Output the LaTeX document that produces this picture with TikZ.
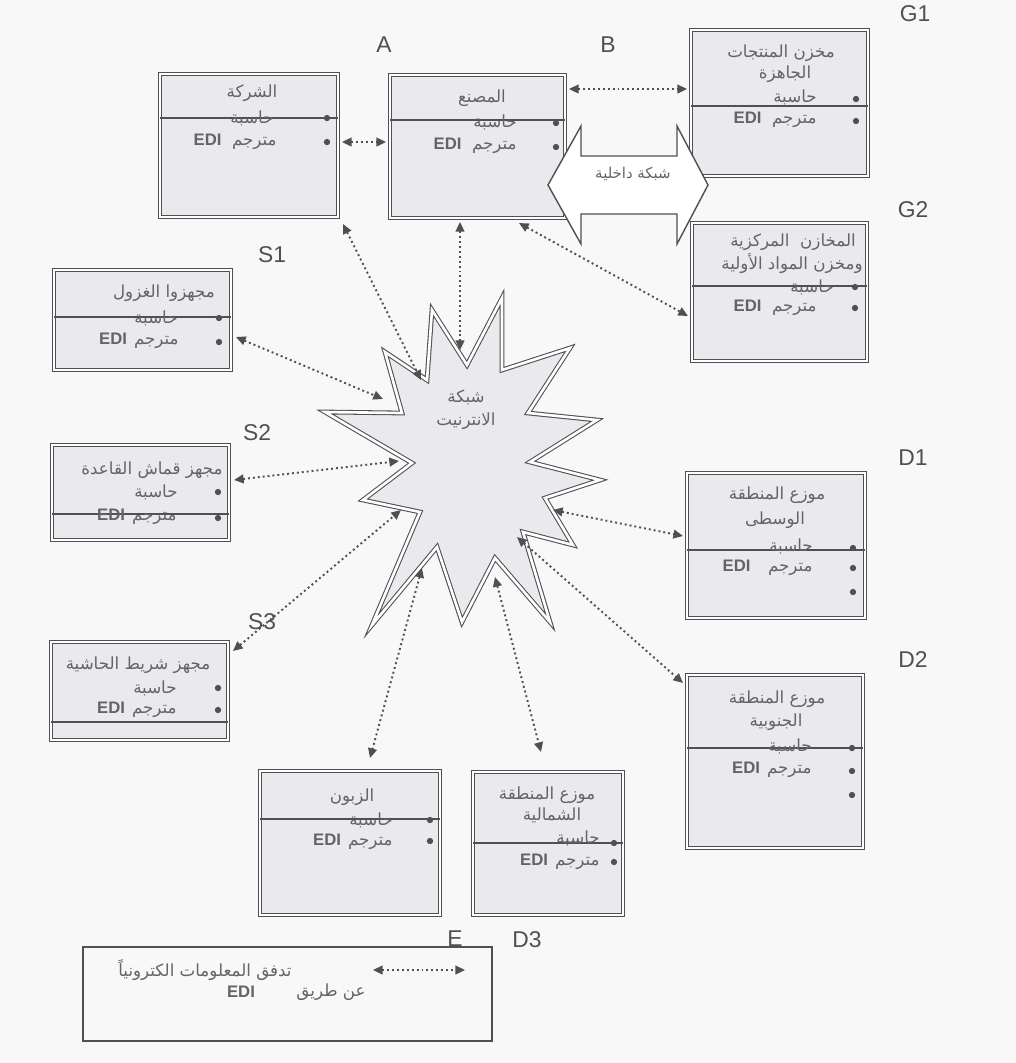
\documentclass[tikz,border=0pt]{standalone}
\usepackage{fontspec}
\setmainfont{Liberation Sans}
\newfontfamily\arabicfont[Script=Arabic]{DejaVu Sans}
\TeXXeTstate=1
\usetikzlibrary{arrows.meta}
\definecolor{boxfill}{RGB}{234,234,238}
\definecolor{lin}{RGB}{80,80,80}
\definecolor{txt}{RGB}{100,100,100}
\definecolor{bg}{RGB}{248,248,248}
\newcommand{\ar}[1]{{\arabicfont\beginR #1\endR}}
\newcommand{\edi}{{\bfseries EDI}}
\begin{document}
\begin{tikzpicture}[x=0.02cm,y=-0.02cm,
  box/.style={draw=lin, double=white, double distance=1.5pt, line width=0.6pt, fill=boxfill, inner sep=0pt},
  divl/.style={draw=lin, line width=0.8pt},
  atxt/.style={font=\arabicfont\fontsize{9.5}{11}\selectfont, text=txt, inner sep=0pt},
  itxt/.style={font=\fontsize{9.5}{11}\selectfont, text=txt, inner sep=0pt, anchor=east},
  lbl/.style={font=\fontsize{13}{13}\selectfont, text=lin, inner sep=0pt},
  bul/.style={circle, fill=lin, inner sep=0pt, minimum size=3.6pt},
  flow/.style={draw=lin, line width=1.1pt, dash pattern=on 1.1pt off 1.7pt,
    {Triangle[length=5.5pt,width=5pt]}-{Triangle[length=5.5pt,width=5pt]}},
  starst/.style={draw=lin, double=white, double distance=1.5pt, line width=0.6pt, fill=boxfill, line join=miter},
  inet/.style={draw=lin, line width=0.8pt, fill=white, line join=miter}
]
\useasboundingbox[fill=bg] (0,0) rectangle (1016,1063);

% ---------- boxes ----------
\node[box, minimum width=3.56cm, minimum height=2.86cm] (A)  at (249,145.5) {};
\node[box, minimum width=3.50cm, minimum height=2.86cm] (B)  at (477.5,146.5) {};
\node[box, minimum width=3.54cm, minimum height=2.92cm] (G1) at (779.5,103) {};
\node[box, minimum width=3.50cm, minimum height=2.76cm] (G2) at (779.5,292) {};
\node[box, minimum width=3.54cm, minimum height=2.00cm] (S1) at (142.5,320) {};
\node[box, minimum width=3.54cm, minimum height=1.90cm] (S2) at (140.5,492.5) {};
\node[box, minimum width=3.54cm, minimum height=1.96cm] (S3) at (139.5,691) {};
\node[box, minimum width=3.56cm, minimum height=2.90cm] (D1) at (776,545.5) {};
\node[box, minimum width=3.52cm, minimum height=3.46cm] (D2) at (775,761.5) {};
\node[box, minimum width=3.60cm, minimum height=2.88cm] (Z)  at (350,843) {};
\node[box, minimum width=3.00cm, minimum height=2.86cm] (D3) at (548,843.5) {};

% ---------- divider lines ----------
\draw[divl] (160,118) -- (338,118);
\draw[divl] (390,120) -- (565,120);
\draw[divl] (691,106) -- (868,106);
\draw[divl] (692,286) -- (867,286);
\draw[divl] (54,317) -- (231,317);
\draw[divl] (52,514) -- (229,514);
\draw[divl] (51,722) -- (228,722);
\draw[divl] (687,550) -- (865,550);
\draw[divl] (687,748) -- (863,748);
\draw[divl] (260,819) -- (440,819);
\draw[divl] (473,843) -- (623,843);

% ---------- box texts ----------
% A
\node[atxt] (A-t) at (252,93) {\ar{الشركة}};
\node[itxt] (A-1) at (274,118) {\ar{حاسبة}};
\node[itxt] (A-2) at (277,142) {\edi\hspace{6pt}\ar{مترجم}};
\node[bul] (A-b1) at (327,118) {}; \node[bul] (A-b2) at (327,142) {};
% B
\node[atxt] (B-t) at (482,98) {\ar{المصنع}};
\node[itxt] (B-1) at (517,122) {\ar{حاسبة}};
\node[itxt] (B-2) at (517,146) {\edi\hspace{6pt}\ar{مترجم}};
\node[bul] (B-b1) at (556,123) {}; \node[bul] (B-b2) at (556,147) {};
% G1
\node[atxt] (G1-t1) at (781,53) {\ar{مخزن المنتجات}};
\node[atxt] (G1-t2) at (785,74) {\ar{الجاهزة}};
\node[itxt] (G1-1) at (817,97) {\ar{حاسبة}};
\node[itxt] (G1-2) at (817,120) {\edi\hspace{6pt}\ar{مترجم}};
\node[bul] (G1-b1) at (856,99) {}; \node[bul] (G1-b2) at (856,121) {};
% G2
\node[atxt] (G2-t1) at (793,242) {\ar{المخازن\ \ المركزية}};
\node[atxt] (G2-t2) at (792,264) {\ar{ومخزن المواد الأولية}};
\node[itxt] (G2-1) at (834,287) {\ar{حاسبة}};
\node[itxt] (G2-2) at (817,308) {\edi\hspace{6pt}\ar{مترجم}};
\node[bul] (G2-b1) at (855,287) {}; \node[bul] (G2-b2) at (855,308) {};
% S1
\node[atxt] (S1-t) at (164,293) {\ar{مجهزوا الغزول}};
\node[itxt] (S1-1) at (178,318) {\ar{حاسبة}};
\node[itxt] (S1-2) at (179,341) {\edi\hspace{4pt}\ar{مترجم}};
\node[bul] (S1-b1) at (219,318) {}; \node[bul] (S1-b2) at (219,342) {};
% S2
\node[atxt] (S2-t) at (152,470) {\ar{مجهز قماش القاعدة}};
\node[itxt] (S2-1) at (178,492) {\ar{حاسبة}};
\node[itxt] (S2-2) at (177,517) {\edi\hspace{4pt}\ar{مترجم}};
\node[bul] (S2-b1) at (218,492) {}; \node[bul] (S2-b2) at (218,518) {};
% S3
\node[atxt] (S3-t) at (138,665) {\ar{مجهز شريط الحاشية}};
\node[itxt] (S3-1) at (177,688) {\ar{حاسبة}};
\node[itxt] (S3-2) at (177,710) {\edi\hspace{4pt}\ar{مترجم}};
\node[bul] (S3-b1) at (218,688) {}; \node[bul] (S3-b2) at (218,710) {};
% D1
\node[atxt] (D1-t1) at (777,495) {\ar{موزع المنطقة}};
\node[atxt] (D1-t2) at (775,520) {\ar{الوسطى}};
\node[itxt] (D1-1) at (813,546) {\ar{حاسبة}};
\node[itxt] (D1-2) at (813,568) {\edi\hspace{10pt}\ar{مترجم}};
\node[bul] (D1-b1) at (853,548) {}; \node[bul] (D1-b2) at (853,568) {}; \node[bul] (D1-b3) at (853,592) {};
% D2
\node[atxt] (D2-t1) at (777,699) {\ar{موزع المنطقة}};
\node[atxt] (D2-t2) at (776,722) {\ar{الجنوبية}};
\node[itxt] (D2-1) at (812,746) {\ar{حاسبة}};
\node[itxt] (D2-2) at (812,770) {\edi\hspace{4pt}\ar{مترجم}};
\node[bul] (D2-b1) at (852,748) {}; \node[bul] (D2-b2) at (852,771) {}; \node[bul] (D2-b3) at (852,795) {};
% Z (customer)
\node[atxt] (Z-t) at (352,797) {\ar{الزبون}};
\node[itxt] (Z-1) at (393,820) {\ar{حاسبة}};
\node[itxt] (Z-2) at (393,842) {\edi\hspace{4pt}\ar{مترجم}};
\node[bul] (Z-b1) at (430,820) {}; \node[bul] (Z-b2) at (430,841) {};
% D3
\node[atxt] (D3-t1) at (547,795) {\ar{موزع المنطقة}};
\node[atxt] (D3-t2) at (552,815) {\ar{الشمالية}};
\node[itxt] (D3-1) at (600,838) {\ar{حاسبة}};
\node[itxt] (D3-2) at (600,862) {\edi\hspace{4pt}\ar{مترجم}};
\node[bul] (D3-b1) at (614,843) {}; \node[bul] (D3-b2) at (614,862) {};

% ---------- internet star ----------
\draw[starst] (502,298) -- (502,370) -- (570,348) -- (528,413) -- (597,420) -- (530,462)
  -- (600,480) -- (545,498) -- (573,545) -- (523,532) -- (550,622) -- (495,558)
  -- (462,622) -- (437,547) -- (372,625) -- (420,512) -- (363,500) -- (412,463)
  -- (325,412) -- (402,413) -- (385,352) -- (427,380) -- (432,310) -- (467,365) -- cycle;
\node[atxt, align=center] (net) at (466,410) {\ar{شبكة}\\[2pt]\ar{الانترنيت}};

% ---------- internal network double arrow ----------
\draw[inet] (548,185) -- (581,126) -- (581,156) -- (677,156) -- (677,126) -- (708,185)
  -- (677,244) -- (677,214) -- (581,214) -- (581,244) -- cycle;
\node[atxt, font=\arabicfont\fontsize{8.5}{10}\selectfont] (intra) at (633,174) {\ar{شبكة داخلية}};

% ---------- labels ----------
\node[lbl] (lA)  at (384,45)  {A};
\node[lbl] (lB)  at (608,45)  {B};
\node[lbl] (lG1) at (915,14)  {G1};
\node[lbl] (lG2) at (913,210) {G2};
\node[lbl] (lS1) at (272,255) {S1};
\node[lbl] (lS2) at (257,433) {S2};
\node[lbl] (lS3) at (262,622) {S3};
\node[lbl] (lD1) at (913,458) {D1};
\node[lbl] (lD2) at (913,660) {D2};
\node[lbl] (lD3) at (527,940) {D3};
\node[lbl] (lE)  at (455,939) {E};

% ---------- connector end points ----------
\coordinate (pAB1) at (342,142); \coordinate (pAB2) at (386,142);
\coordinate (pBG1) at (569,89);  \coordinate (pBG2) at (687,89);
\coordinate (pA)  at (343,224);  \coordinate (sA)  at (421,380);
\coordinate (pB)  at (460,222);  \coordinate (sB)  at (460,350);
\coordinate (pBG) at (519,223);  \coordinate (pG2) at (688,316);
\coordinate (pS1) at (236,337);  \coordinate (sS1) at (383,399);
\coordinate (pS2) at (234,480);  \coordinate (sS2) at (399,461);
\coordinate (pS3) at (233,651);  \coordinate (sS3) at (401,510);
\coordinate (sZ)  at (422,568);  \coordinate (pZ)  at (370,758);
\coordinate (sD3) at (495,577);  \coordinate (pD3) at (541,752);
\coordinate (sD1) at (553,510);  \coordinate (pD1) at (683,536);
\coordinate (sD2) at (517,537);  \coordinate (pD2) at (683,683);

\draw[flow] (pAB1) -- (pAB2);
\draw[flow] (pBG1) -- (pBG2);
\draw[flow] (pA) -- (sA);
\draw[flow] (pB) -- (sB);
\draw[flow] (pBG) -- (pG2);
\draw[flow] (pS1) -- (sS1);
\draw[flow] (pS2) -- (sS2);
\draw[flow] (pS3) -- (sS3);
\draw[flow] (sZ) -- (pZ);
\draw[flow] (sD3) -- (pD3);
\draw[flow] (sD1) -- (pD1);
\draw[flow] (sD2) -- (pD2);

% ---------- legend ----------
\node[draw=lin, line width=0.8pt, minimum width=8.18cm, minimum height=1.88cm, inner sep=0pt] (leg) at (287.5,994) {};
\node[atxt] (leg-t1) at (205,970) {\ar{تدفق المعلومات الكترونياً}};
\node[atxt] (leg-t2) at (331,992) {\ar{عن طريق}};
\node[itxt, anchor=center] (leg-t3) at (241,992) {\edi};
\coordinate (legL) at (373,970); \coordinate (legR) at (465,970);
\draw[flow] (legL) -- (legR);
\end{tikzpicture}
\end{document}
